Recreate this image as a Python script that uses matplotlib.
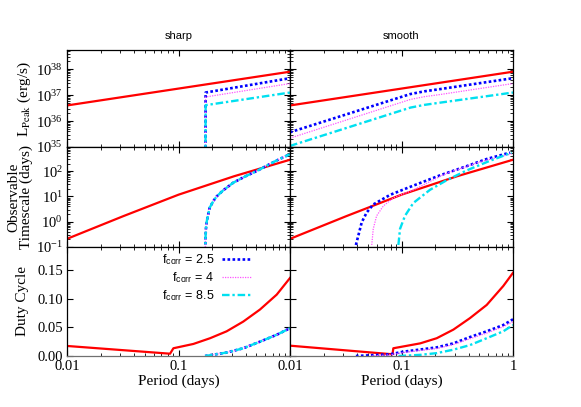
import numpy as np
import matplotlib
matplotlib.use("Agg")
import matplotlib.pyplot as plt
from matplotlib.ticker import LogLocator, LogFormatterMathtext, NullFormatter, FixedFormatter

plt.rcParams["font.family"] = ["Liberation Serif", "DejaVu Serif"]
plt.rcParams["mathtext.fontset"] = "stix"

# ---- peak luminosity (erg/s) ----
p_lum_red = [0.01, 1.0]
lum_red = [4.0e36, 8.0e37]

p_lum_sharp = [0.1745, 0.1750, 1.0]
lum_sharp_25 = [1e34, 1.26e37, 4.5e37]
lum_sharp_4 = [1e34, 8.5e36, 2.8e37]
lum_sharp_85 = [1e34, 4.1e36, 1.26e37]

p_lum_smooth = [0.01, 0.12, 0.16, 0.22, 1.0]
lum_smooth_25 = [3.7e35, 1.1e37, 1.4e37, 1.7e37, 4.5e37]
lum_smooth_4 = [2.2e35, 6.8e36, 8.7e36, 1.05e37, 2.8e37]
lum_smooth_85 = [1.1e35, 3.3e36, 4.2e36, 5.1e36, 1.26e37]

# ---- observable timescale (days) ----
p_time_red = [0.01, 0.032, 0.1, 0.316, 1.0]
time_red = [0.21, 1.66, 11.7, 63.0, 282.0]

p_time_sharp = [0.1740, 0.1745, 0.176, 0.179, 0.19, 0.205, 0.22, 0.25, 0.31, 0.40, 0.50, 0.75, 1.0]
time_sharp = [0.05, 0.2, 0.5, 1.0, 3.5, 6.5, 10.0, 17.0, 35.0, 63.0, 100.0, 257.0, 470.0]

p_time_smooth_25 = [0.0390, 0.0440, 0.0487, 0.0558, 0.0789, 0.111, 0.157, 0.221, 0.358, 0.581, 0.94]
time_smooth_25 = [0.12, 0.95, 2.3, 4.8, 11.5, 21.0, 38.0, 68.0, 141.0, 302.0, 540.0]
p_time_smooth_4 = [0.0541, 0.0558, 0.0598, 0.0687, 0.0845, 0.128, 0.25, 0.5, 1.0]
time_smooth_4 = [0.12, 0.52, 1.7, 4.2, 8.7, 18.2, 80.0, 230.0, 500.0]
p_time_smooth_85 = [0.0938, 0.0970, 0.1074, 0.1276, 0.180, 0.254, 0.385, 0.622, 0.973]
time_smooth_85 = [0.12, 0.52, 1.7, 5.5, 18.2, 43.6, 107.0, 257.0, 537.0]

# ---- duty cycle ----
p_duty_red_sharp = [0.01, 0.084, 0.090, 0.136, 0.192, 0.270, 0.381, 0.538, 0.760, 1.0]
duty_red_sharp = [0.0175, 0.004, 0.0135, 0.021, 0.031, 0.043, 0.060, 0.081, 0.107, 0.136]
p_duty_sharp = [0.173, 0.270, 0.381, 0.538, 0.760, 1.0]
duty_sharp = [0.0, 0.006, 0.0135, 0.025, 0.037, 0.0485]

p_duty_red_smooth = [0.01, 0.083, 0.0845, 0.147, 0.207, 0.292, 0.411, 0.581, 0.818, 1.0]
duty_red_smooth = [0.018, 0.003, 0.0135, 0.022, 0.031, 0.046, 0.066, 0.089, 0.122, 0.145]
p_duty_smooth_25 = [0.039, 0.079, 0.104, 0.207, 0.292, 0.411, 0.581, 0.818, 1.0]
duty_smooth_25 = [0.0, 0.003, 0.0075, 0.015, 0.022, 0.033, 0.043, 0.054, 0.064]
p_duty_smooth_4 = [0.054, 0.079, 0.104, 0.207, 0.292, 0.411, 0.581, 0.818, 1.0]
duty_smooth_4 = [0.0, 0.002, 0.006, 0.013, 0.020, 0.030, 0.040, 0.051, 0.060]
p_duty_smooth_85 = [0.094, 0.147, 0.207, 0.292, 0.411, 0.581, 0.818, 1.0]
duty_smooth_85 = [0.0, 0.002, 0.005, 0.011, 0.019, 0.031, 0.043, 0.054]

f_labels = ["2.5", "4", "8.5"]
col_red, col_blue, col_mag, col_cyan = "#ff0000", "#0000ff", "#ff55ff", "#00e0f0"

fig = plt.figure(figsize=(5.81, 4.07), dpi=100)
W, H = 581.0, 407.0
xs = [67, 290, 513]
ys = [50, 147, 247, 356]
axes = []
for r in range(3):
    row = []
    for c in range(2):
        ax = fig.add_axes([xs[c] / W, 1 - ys[r + 1] / H, (xs[c + 1] - xs[c]) / W, (ys[r + 1] - ys[r]) / H])
        row.append(ax)
    axes.append(row)


def style_f(ax, px, y25, y4, y85, px4=None, px85=None):
    ax.plot(px, y25, color=col_blue, lw=1.9, ls=(0, (1, 0.9)), solid_capstyle="butt",
            label=r"f$_\mathregular{corr}$ = " + f_labels[0])
    ax.plot(px if px4 is None else px4, y4, color=col_mag, lw=0.9, ls=(0, (1, 1)),
            label=r"f$_\mathregular{corr}$ = " + f_labels[1])
    ax.plot(px if px85 is None else px85, y85, color=col_cyan, lw=1.7, ls=(0, (3.2, 1.2, 1, 1.2)),
            label=r"f$_\mathregular{corr}$ = " + f_labels[2])


# top row
for ax in axes[0]:
    ax.plot(p_lum_red, lum_red, color=col_red, lw=1.6)
style_f(axes[0][0], p_lum_sharp, lum_sharp_25, lum_sharp_4, lum_sharp_85)
style_f(axes[0][1], p_lum_smooth, lum_smooth_25, lum_smooth_4, lum_smooth_85)

# middle row
for ax in axes[1]:
    ax.plot(p_time_red, time_red, color=col_red, lw=1.6)
style_f(axes[1][0], p_time_sharp, time_sharp, time_sharp, time_sharp)
style_f(axes[1][1], p_time_smooth_25, time_smooth_25, time_smooth_4, time_smooth_85,
        px4=p_time_smooth_4, px85=p_time_smooth_85)

# bottom row
axes[2][0].plot(p_duty_red_sharp, duty_red_sharp, color=col_red, lw=1.6)
axes[2][1].plot(p_duty_red_smooth, duty_red_smooth, color=col_red, lw=1.6)
style_f(axes[2][0], p_duty_sharp, duty_sharp, duty_sharp, duty_sharp)
style_f(axes[2][1], p_duty_smooth_25, duty_smooth_25, duty_smooth_4, duty_smooth_85,
        px4=p_duty_smooth_4, px85=p_duty_smooth_85)

ylims = [(1e35, 5.5e38), (0.1, 900), (0.0, 0.19)]
for r in range(3):
    for c in range(2):
        ax = axes[r][c]
        ax.set_xscale("log")
        ax.set_xlim(0.01, 1)
        if r < 2:
            ax.set_yscale("log")
            ax.yaxis.set_major_locator(LogLocator(base=10, numticks=10))
            ax.yaxis.set_minor_locator(LogLocator(base=10, subs=np.arange(2, 10), numticks=20))
            ax.yaxis.set_major_formatter(LogFormatterMathtext())
            ax.yaxis.set_minor_formatter(NullFormatter())
        else:
            ax.set_yticks([0.0, 0.05, 0.10, 0.15])
            ax.yaxis.set_major_formatter(FixedFormatter(["0.00", "0.05", "0.10", "0.15"]))
        ax.set_ylim(*ylims[r])
        ax.tick_params(which="both", direction="in", top=True, right=True, labelsize=10.5, pad=3)
        ax.tick_params(which="major", length=4.5, width=0.8)
        ax.tick_params(which="minor", length=2.5, width=0.6)
        if c == 1:
            ax.tick_params(labelleft=False)
        if r < 2:
            ax.tick_params(labelbottom=False)
        for s in ax.spines.values():
            s.set_linewidth(0.9)
        if r > 0:
            ax.spines["bottom"].set_color("#707070")

axes[2][0].set_xticks([0.01, 0.1, 1])
axes[2][0].xaxis.set_major_formatter(FixedFormatter(["0.01", "0.1", ""]))
axes[2][1].set_xticks([0.01, 0.1, 1])
axes[2][1].xaxis.set_major_formatter(FixedFormatter(["0.01", "0.1", "1"]))
for ax in axes[2]:
    ax.set_xlabel("Period (days)", fontsize=11, labelpad=1)

axes[0][0].set_ylabel(r"L$_{\rm Peak}$ (erg/s)", fontsize=11, labelpad=2)
axes[1][0].set_ylabel("Observable\nTimescale (days)", fontsize=11, labelpad=2, linespacing=0.95)
axes[2][0].set_ylabel("Duty Cycle", fontsize=11, labelpad=6)

axes[0][0].set_title("sharp", fontsize=8, family=["Liberation Sans", "DejaVu Sans"], pad=8)
axes[0][1].set_title("smooth", fontsize=8, family=["Liberation Sans", "DejaVu Sans"], pad=8)

leg = axes[2][0].legend(loc="upper right", bbox_to_anchor=(0.83, 0.95), frameon=False,
                        markerfirst=False, handlelength=2.4, handletextpad=0.6,
                        labelspacing=0.25, borderpad=0, borderaxespad=0,
                        prop={"family": ["Liberation Sans", "DejaVu Sans"], "size": 9})

fig.savefig("out.png", dpi=100)
